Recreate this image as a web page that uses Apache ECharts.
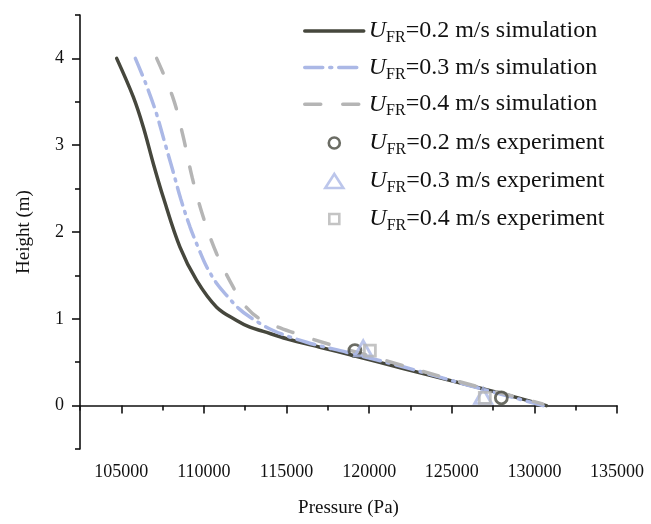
<!DOCTYPE html>
<html>
<head>
<meta charset="utf-8">
<script src="https://cdn.jsdelivr.net/npm/echarts@6/dist/echarts.min.js"></script>
<style>
  html, body { margin: 0; padding: 0; background: #ffffff; }
  #chart { width: 651px; height: 524px; }
</style>
</head>
<body>
<div id="chart"></div>
<script>
// Pressure profiles along the riser height (simulation curves)
const sim02P = [104720, 105725, 106330, 106934, 107540, 108550, 109560, 110770, 111980, 112784, 113590, 115005, 117020, 119033, 122000, 125000, 128000, 130730];
const sim02H = [4.0, 3.556, 3.21, 2.79, 2.40, 1.826, 1.442, 1.134, 0.98, 0.903, 0.855, 0.77, 0.672, 0.577, 0.43, 0.285, 0.14, 0.0];

const sim03P = [105850, 106500, 107100, 107600, 108100, 108600, 109155, 109700, 110165, 110800, 111375, 112100, 112784, 114194, 116215, 118634, 122000, 126000, 130530];
const sim03H = [4.0, 3.70, 3.38, 3.05, 2.72, 2.38, 2.06, 1.80, 1.60, 1.40, 1.27, 1.12, 1.02, 0.865, 0.73, 0.615, 0.45, 0.235, 0.0];

const sim04P = [107140, 108144, 108749, 109300, 109959, 110770, 111774, 112482, 113389, 115609, 117824, 120000, 125000, 130500];
const sim04H = [4.0, 3.537, 3.095, 2.62, 2.172, 1.75, 1.364, 1.15, 1.0, 0.827, 0.692, 0.575, 0.3, 0.02];

// Measured points
const exp02P = [119136, 128000];
const exp02H = [0.634, 0.09];
const exp03P = [119640, 126900];
const exp03H = [0.66, 0.11];
const exp04P = [120044, 127000];
const exp04H = [0.634, 0.09];

// Axis ticks
const xMajorTicks = [105000, 110000, 115000, 120000, 125000, 130000, 135000];
const xMinorTicks = [102500, 107500, 112500, 117500, 122500, 127500, 132500];
const yMajorTicks = [0, 1, 2, 3, 4];
const yMinorTicks = [-0.5, 0.5, 1.5, 2.5, 3.5, 4.5];

const speeds = ['0.2', '0.3', '0.4'];

const pair = (xs, ys) => xs.map((x, i) => [x, ys[i]]);

const colDark = '#46473d';
const colBlue = '#abb8e6';
const colGray = '#b5b5b5';
const serif = 'Liberation Serif, Times New Roman, serif';

const names = {
  sim: speeds.map(s => 'sim|' + s + '|simulation'),
  exp: speeds.map(s => 'exp|' + s + '|experiment')
};

// Legend label: italic U with subscript FR, then the rest of the text
function legendRich(padLeft) {
  return {
    fontFamily: serif,
    color: '#111',
    rich: {
      u: { fontFamily: serif, fontStyle: 'italic', fontSize: 24, lineHeight: 30, verticalAlign: 'middle', color: '#111', padding: [0, 0, 0, padLeft] },
      s: { fontFamily: serif, fontSize: 16, lineHeight: 12, verticalAlign: 'bottom', color: '#111' },
      t: { fontFamily: serif, fontSize: 24, lineHeight: 30, verticalAlign: 'middle', color: '#111' }
    }
  };
}
function legendFormatter(name) {
  const parts = name.split('|');
  return '{u|U}{s|FR}{t|=' + parts[1] + ' m/s ' + parts[2] + '}';
}

const lineLegend = {
  orient: 'vertical',
  left: 303,
  top: 19,
  padding: 0,
  itemWidth: 59,
  itemHeight: 14,
  itemGap: 9.6,
  selectedMode: false,
  data: names.sim.map(n => ({ name: n, itemStyle: { opacity: 0 }, lineStyle: { width: 3.5 } })),
  formatter: legendFormatter,
  textStyle: legendRich(0)
};

function markerLegend(name, w, h, top, color) {
  const left = 333 - w / 2;
  return {
    orient: 'vertical',
    left: left,
    top: top,
    padding: 0,
    itemWidth: w,
    itemHeight: h,
    selectedMode: false,
    data: [{ name: name, itemStyle: { color: 'rgba(255,255,255,0)', borderColor: color, borderWidth: 2.6 } }],
    formatter: legendFormatter,
    textStyle: legendRich(368 - (left + w + 5))
  };
}

const axisLineStyle = { show: true, lineStyle: { color: '#111', width: 1.6 } };

const chart = echarts.init(document.getElementById('chart'));

chart.setOption({
  backgroundColor: '#ffffff',
  animation: false,
  grid: { left: 80, right: 34, top: 15, bottom: 75 },
  legend: [
    lineLegend,
    markerLegend(names.exp[0], 11, 11, 131, colDark),
    markerLegend(names.exp[1], 18, 14, 169, colBlue),
    markerLegend(names.exp[2], 10, 10, 207, colGray)
  ],
  xAxis: [
    {
      type: 'value',
      min: 102500,
      max: 135000,
      name: 'Pressure (Pa)',
      nameLocation: 'middle',
      nameGap: 50,
      nameTextStyle: { fontFamily: serif, fontSize: 19, color: '#111' },
      axisLine: axisLineStyle,
      splitLine: { show: false },
      axisTick: { show: true, inside: false, length: 8, lineStyle: { color: '#111', width: 1.6 }, customValues: xMajorTicks },
      axisLabel: { fontFamily: serif, fontSize: 18, color: '#111', margin: 14, customValues: xMajorTicks, formatter: v => String(v) }
    },
    {
      type: 'value',
      min: 102500,
      max: 135000,
      position: 'bottom',
      axisLine: { show: false },
      splitLine: { show: false },
      axisLabel: { show: false },
      axisTick: { show: true, inside: false, length: 5, lineStyle: { color: '#111', width: 1.6 }, customValues: xMinorTicks }
    }
  ],
  yAxis: [
    {
      type: 'value',
      min: -0.5,
      max: 4.5,
      name: 'Height (m)',
      nameLocation: 'middle',
      nameGap: 46,
      nameTextStyle: { fontFamily: serif, fontSize: 19, color: '#111' },
      axisLine: axisLineStyle,
      splitLine: { show: false },
      axisTick: { show: true, inside: false, length: 8, lineStyle: { color: '#111', width: 1.6 }, customValues: yMajorTicks },
      axisLabel: { fontFamily: serif, fontSize: 18, color: '#111', margin: 16, customValues: yMajorTicks, formatter: v => String(v) }
    },
    {
      type: 'value',
      min: -0.5,
      max: 4.5,
      position: 'left',
      axisLine: { show: false },
      splitLine: { show: false },
      axisLabel: { show: false },
      axisTick: { show: true, inside: false, length: 5, lineStyle: { color: '#111', width: 1.6 }, customValues: yMinorTicks }
    }
  ],
  series: [
    {
      name: names.sim[0], type: 'line', data: pair(sim02P, sim02H),
      smooth: 0.35, showSymbol: false, symbol: 'none',
      lineStyle: { color: colDark, width: 3.5, type: 'solid', cap: 'round' },
      itemStyle: { color: colDark }, z: 3
    },
    {
      name: names.sim[1], type: 'line', data: pair(sim03P, sim03H),
      smooth: 0.35, showSymbol: false, symbol: 'none',
      lineStyle: { color: colBlue, width: 3.5, type: [18, 7, 2, 7], cap: 'round' },
      itemStyle: { color: colBlue }, z: 3
    },
    {
      name: names.sim[2], type: 'line', data: pair(sim04P, sim04H),
      smooth: 0.35, showSymbol: false, symbol: 'none',
      lineStyle: { color: colGray, width: 3.5, type: [16, 22], cap: 'round' },
      itemStyle: { color: colGray }, z: 3
    },
    {
      name: names.exp[0], type: 'scatter', data: pair(exp02P, exp02H),
      symbol: 'circle', symbolSize: 12,
      itemStyle: { color: 'rgba(255,255,255,0)', borderColor: colDark, borderWidth: 2.8 }, z: 4
    },
    {
      name: names.exp[1], type: 'scatter', data: pair(exp03P, exp03H),
      symbol: 'triangle', symbolSize: [17, 15],
      itemStyle: { color: 'rgba(255,255,255,0)', borderColor: colBlue, borderWidth: 2.8 }, z: 4
    },
    {
      name: names.exp[2], type: 'scatter', data: pair(exp04P, exp04H),
      symbol: 'rect', symbolSize: 11,
      itemStyle: { color: 'rgba(255,255,255,0)', borderColor: colGray, borderWidth: 2.8 }, z: 4
    }
  ]
});
</script>
</body>
</html>
